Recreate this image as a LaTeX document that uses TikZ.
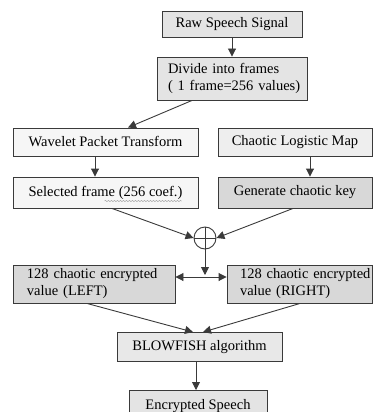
\documentclass[tikz,border=0pt]{standalone}
\usepackage{fontspec}
\setmainfont{Liberation Serif}
\usetikzlibrary{arrows.meta,calc,decorations.pathmorphing}
\definecolor{edge}{HTML}{3A3A3A}
\definecolor{fa}{HTML}{E4E4E4}
\definecolor{fb}{HTML}{F6F6F6}
\definecolor{fc}{HTML}{EEEEEE}
\definecolor{fd}{HTML}{D8D8D8}
\definecolor{fe}{HTML}{E8E8E8}
\begin{document}
\begin{tikzpicture}[x=1pt,y=-1pt,
  box/.style={draw=edge,line width=0.9pt,inner sep=0pt,font=\fontsize{14.5}{17}\selectfont,align=left},
  conn/.style={draw=edge,line width=0.9pt,-{Triangle[length=8pt,width=8pt]}},
  twoway/.style={draw=edge,line width=0.9pt,{Triangle[length=8pt,width=8pt]}-{Triangle[length=8pt,width=8pt]}}]
\useasboundingbox (0,0) rectangle (382,412);
\node[box,fill=fa,minimum width=140pt,minimum height=26pt] (raw) at (232,24) {Raw Speech Signal};
\node[box,fill=fa,minimum width=150pt,minimum height=43pt,text width=128pt] (div) at (232,78.5) {\mbox{Divide into frames}\\\mbox{( 1 frame=256 values)}};
\node[box,fill=fb,minimum width=185pt,minimum height=28pt] (wpt) at (105.5,142) {Wavelet Packet Transform};
\node[box,fill=fc,minimum width=154pt,minimum height=28pt] (clm) at (295,142) {Chaotic Logistic Map};
\node[box,fill=fb,minimum width=185pt,minimum height=31pt] (sel) at (105.5,192.5) {Selected frame (256 coef.)};
\node[box,fill=fd,minimum width=154pt,minimum height=31pt] (gen) at (295,192.5) {Generate chaotic key};
\draw[gray!70,line width=0.5pt,decorate,decoration={snake,amplitude=0.6pt,segment length=3pt}] ($(sel.center)+(-1,8.5)$) -- ($(sel.center)+(76,8.5)$);
\node[draw=edge,line width=0.9pt,fill=white,circle,minimum size=22pt,inner sep=0pt] (xor) at (205,238) {};
\draw[edge,line width=0.8pt] (xor.north) -- (xor.south) (xor.west) -- (xor.east);
\node[box,fill=fd,minimum width=162pt,minimum height=38pt,text width=134pt] (left) at (94,284) {\mbox{128 chaotic encrypted}\\\mbox{value (LEFT)}};
\node[box,fill=fd,minimum width=145pt,minimum height=38pt,text width=119pt] (right) at (299.5,284) {\mbox{128 chaotic encrypted}\\\mbox{value (RIGHT)}};
\node[box,fill=fe,minimum width=165pt,minimum height=29pt] (bf) at (199.5,347) {BLOWFISH algorithm};
\node[box,fill=fa,minimum width=138pt,minimum height=29pt,anchor=north] (enc) at (198,390) {};
\node[font=\fontsize{14.5}{17}\selectfont,anchor=base] (enctxt) at (198,409) {Encrypted Speech};
\coordinate (jn) at (205,277);
\draw[conn] (raw.south) -- (div.north);
\draw[conn] ($(div.south)+(-40,0)$) -- ($(wpt.north)+(22.5,0)$);
\draw[conn] ($(wpt.south)+(-10.5,0)$) -- ($(sel.north)+(-10.5,0)$);
\draw[conn] ($(clm.south)+(15,0)$) -- ($(gen.north)+(15,0)$);
\draw[conn] ($(sel.south)+(6.5,0)$) -- (xor.west);
\draw[conn] ($(gen.south)+(-2,0)$) -- (xor.east);
\draw[conn] (xor.south) -- ($(jn)+(0,-2)$);
\draw[twoway] (left.east |- jn) -- (right.west |- jn);
\draw[conn] ($(left.south)+(-7,0)$) -- ($(bf.north)+(-6.5,0)$);
\draw[conn] ($(right.south)+(0.5,0)$) -- ($(bf.north)+(3.5,0)$);
\draw[conn] ($(bf.south)+(-3.5,0)$) -- ($(enc.north)+(-2,0)$);
\end{tikzpicture}
\end{document}
